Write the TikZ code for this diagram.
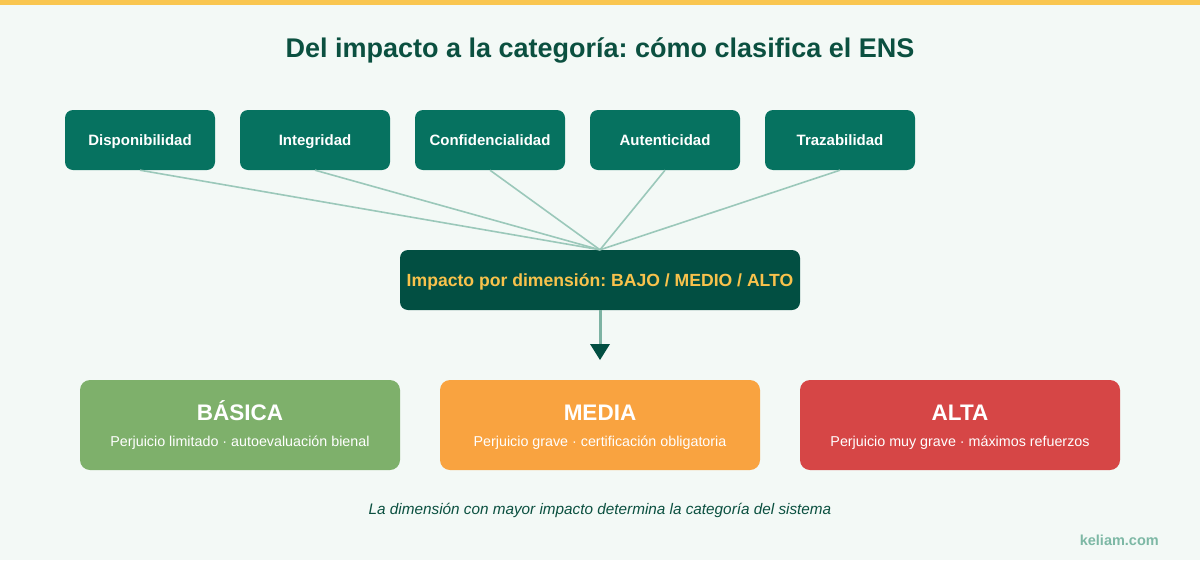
\documentclass[tikz,border=0pt]{standalone}
\usepackage{fontspec}
\setmainfont{Liberation Sans}
\frenchspacing
\definecolor{bgc}{HTML}{F3F9F6}
\definecolor{topbar}{HTML}{F9C650}
\definecolor{darkgreen}{HTML}{0B5040}
\definecolor{teal}{HTML}{067260}
\definecolor{impactbg}{HTML}{024F42}
\definecolor{gold}{HTML}{F8C24C}
\definecolor{linkc}{HTML}{9BC8BA}
\definecolor{stemc}{HTML}{7DB3A3}
\definecolor{basica}{HTML}{7EB06B}
\definecolor{media}{HTML}{F9A340}
\definecolor{alta}{HTML}{D64646}
\definecolor{brand}{HTML}{7DB8A5}
\begin{document}
\begin{tikzpicture}[x=1pt,y=-1pt,
  % cap height of the font sets the box height so the capitals sit centred
  capbox/.style={text height=#1,text depth=0pt,inner sep=0pt},
  dimbox/.style={capbox=10.7pt,draw=none,fill=teal,rounded corners=8pt,minimum width=150pt,minimum height=60pt,
    text=white,font=\bfseries\fontsize{15}{17}\selectfont},
  impbox/.style={capbox=12.6pt,draw=none,fill=impactbg,rounded corners=8pt,minimum width=400pt,minimum height=60pt,
    text=gold,font=\bfseries\fontsize{17.6}{20}\selectfont},
  catbox/.style={draw=none,rounded corners=10pt,minimum width=320pt,minimum height=90pt,inner sep=0pt},
  cattitle/.style={capbox=16.1pt,text=white,font=\bfseries\fontsize{22.5}{25}\selectfont},
  catsub/.style={capbox=10.2pt,text=white,font=\fontsize{14.3}{16}\selectfont},
  link/.style={draw=linkc,line width=1.6pt},
]
\useasboundingbox (0,0) rectangle (1200,560);
\fill[bgc] (0,0) rectangle (1200,560);
\fill[topbar] (0,0) rectangle (1200,5);

% title
\node[capbox=19.3pt,text=darkgreen,font=\bfseries\fontsize{27}{30}\selectfont] (title) at (600,48) {Del impacto a la categoría: cómo clasifica el ENS};

% security dimensions
\node[dimbox] (d1) at (140,140) {Disponibilidad};
\node[dimbox] (d2) at (315,140) {Integridad};
\node[dimbox] (d3) at (490,140) {Confidencialidad};
\node[dimbox] (d4) at (665,140) {Autenticidad};
\node[dimbox] (d5) at (840,140) {Trazabilidad};

% impact level
\node[impbox] (imp) at (600,280) {Impacto por dimensión: BAJO / MEDIO / ALTO};

\foreach \d in {d1,d2,d3,d4,d5}
  \draw[link] (\d.south) -- (imp.north);

% arrow towards the categories
\coordinate (tip) at (600,360);
\coordinate (stemend) at (600,344);
\draw[stemc,line width=3pt] (imp.south) -- (stemend);
\fill[impactbg] (590,344) -- (610,344) -- (tip) -- cycle;

% categories
\node[catbox,fill=basica] (bas) at (240,425) {};
\node[cattitle] (bast) at (240,412) {BÁSICA};
\node[catsub] (bass) at (240,441) {Perjuicio limitado · autoevaluación bienal};

\node[catbox,fill=media] (med) at (600,425) {};
\node[cattitle] (medt) at (600,412) {MEDIA};
\node[catsub] (meds) at (600,441) {Perjuicio grave · certificación obligatoria};

\node[catbox,fill=alta] (alt) at (960,425) {};
\node[cattitle] (altt) at (960,412) {ALTA};
\node[catsub] (alts) at (960,441) {Perjuicio muy grave · máximos refuerzos};

% footnote and brand
\node[capbox=11pt,text=darkgreen,font=\itshape\fontsize{15.3}{17}\selectfont] (note) at (600,509) {La dimensión con mayor impacto determina la categoría del sistema};
\node[capbox=10.4pt,text=brand,font=\bfseries\fontsize{14.5}{16}\selectfont,anchor=east] (brandtxt) at (1159,540) {keliam.com};
\end{tikzpicture}
\end{document}
